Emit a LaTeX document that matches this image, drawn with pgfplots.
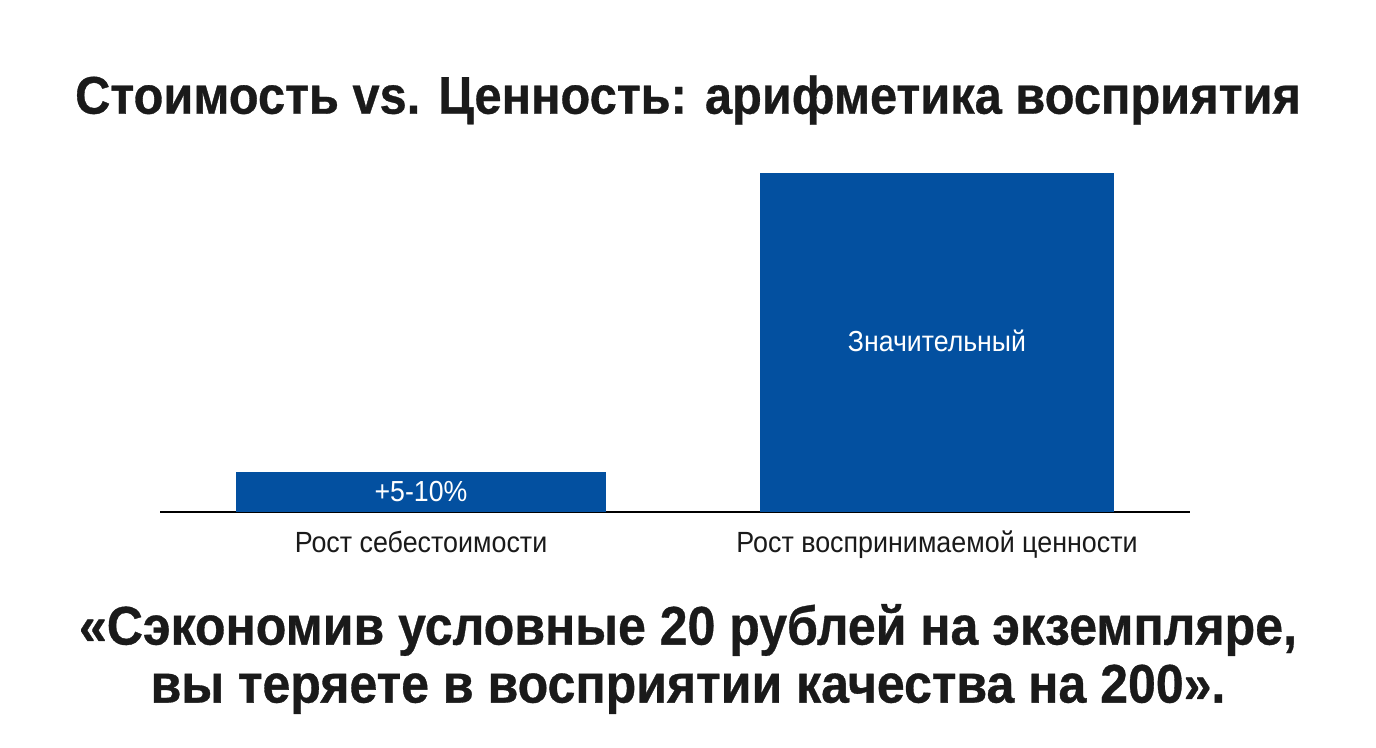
\documentclass[border=0pt]{standalone}
\usepackage{pgfplots}
\pgfplotsset{compat=1.18}
\usepackage{fontspec}
\setmainfont[FakeStretch=0.92, BoldFeatures={FakeBold=0.6}]{Liberation Sans}
\definecolor{barblue}{HTML}{0350A0}
\definecolor{txt}{HTML}{1A1A1A}
\begin{document}
\begin{tikzpicture}
\path[use as bounding box, fill=white] (0,0) rectangle (688pt,374pt);
\node[font=\fontsize{26.5}{30}\selectfont\bfseries, text=txt] at (344pt,324pt) {Стоимость vs. Ценность: арифметика восприятия};
\begin{axis}[
  at={(80pt,118pt)}, anchor=origin,
  scale only axis, width=515pt, height=169.5pt,
  xmin=0, xmax=1030, ymin=0, ymax=100,
  axis x line=bottom, axis y line=none,
  axis line style={-, black, line width=0.6pt},
  xtick={261,777}, xticklabels={Рост себестоимости, Рост воспринимаемой ценности},
  xtick style={draw=none},
  xticklabel style={font=\fontsize{14.6}{16}\selectfont, text=txt, yshift=-4pt},
  ytick=\empty,
  clip=false,
]
\addplot[ybar, bar width=370, fill=barblue, draw=none] coordinates {(261,11.8)};
\addplot[ybar, bar width=354, fill=barblue, draw=none] coordinates {(777,100)};
\addplot[only marks, mark=none, nodes near coords, point meta=explicit symbolic,
  nodes near coords style={anchor=center, text=white, font=\fontsize{14.5}{16}\selectfont}]
  coordinates {(261,5.9) [+5-10\%] (777,50.4) [Значительный]};
\end{axis}
\node[font=\fontsize{27.2}{29}\selectfont\bfseries, text=txt, align=center] at (344pt,44.5pt)
  {«Сэкономив условные 20 рублей на экземпляре,\\ вы теряете в восприятии качества на 200».};
\end{tikzpicture}
\end{document}
